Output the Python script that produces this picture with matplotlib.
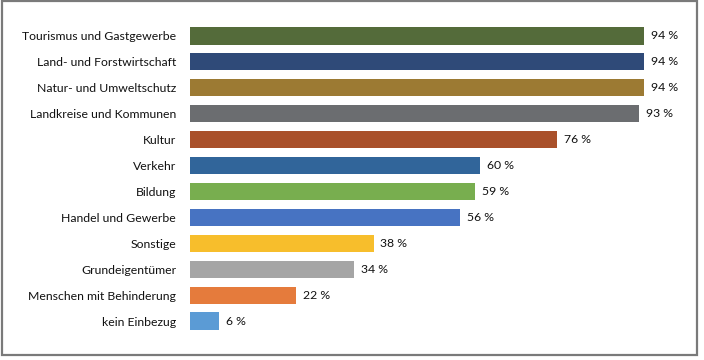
import matplotlib.pyplot as plt
from matplotlib.patches import Rectangle

plt.rcParams['font.family'] = ['Lato', 'DejaVu Sans']

categories = ['Tourismus und Gastgewerbe', 'Land- und Forstwirtschaft',
              'Natur- und Umweltschutz', 'Landkreise und Kommunen', 'Kultur',
              'Verkehr', 'Bildung', 'Handel und Gewerbe', 'Sonstige',
              'Grundeigentümer', 'Menschen mit Behinderung', 'kein Einbezug']
values = [94, 94, 94, 93, 76, 60, 59, 56, 38, 34, 22, 6]
colors = ['#546B3A', '#2F4A78', '#9C7A33', '#6B6D70', '#A9502A', '#31659A',
          '#78AE4F', '#4773C2', '#F7BE2C', '#A5A5A5', '#E57B3C', '#5B9BD5']

W, H = 704, 360
fig = plt.figure(figsize=(W / 100, H / 100), dpi=100)

# grey frame around the whole chart
fig.patches.append(Rectangle((2 / W, 1 - 355 / H), 695 / W, 354 / H,
                             transform=fig.transFigure, fill=False,
                             edgecolor='#7a7a7a', linewidth=1.6))

ax = fig.add_axes([190 / W, 1 - 334 / H, 500 / W, 311 / H])
y = list(range(len(categories)))
ax.barh(y, values, height=0.66, color=colors)
ax.set_xlim(0, 500 / 4.83)
ax.set_ylim(len(categories) - 0.5, -0.5)

ax.set_yticks(y)
ax.set_yticklabels(categories, fontsize=8.8, color='#111111')
ax.tick_params(axis='y', length=0, pad=10)
ax.set_xticks([])
for s in ax.spines.values():
    s.set_visible(False)

for yi, v in zip(y, values):
    ax.text(v + 1.4, yi, f'{v} %', va='center', ha='left', fontsize=8.8,
            color='#111111')

fig.savefig('out.png', dpi=100)
